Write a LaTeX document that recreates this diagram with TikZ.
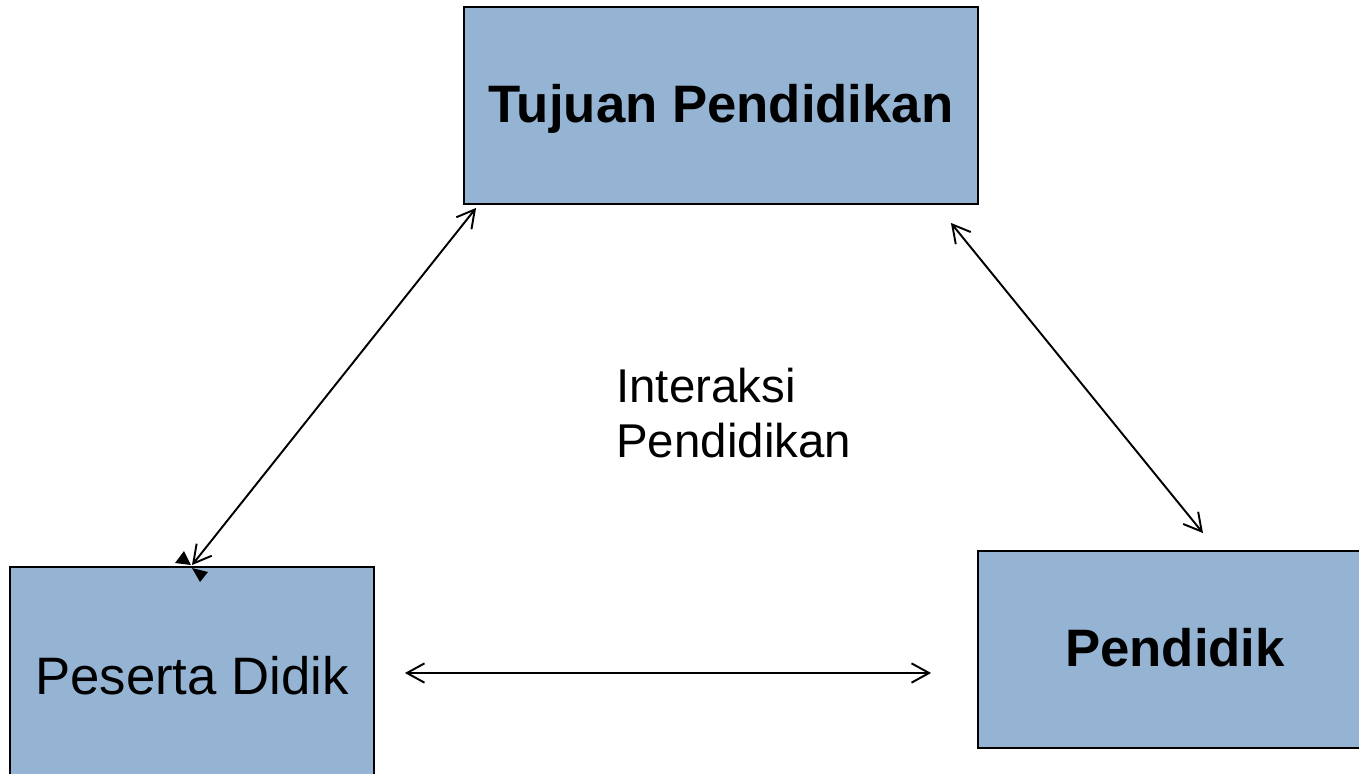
\documentclass[tikz,border=0pt]{standalone}
\usepackage{fontspec}
\setmainfont{Liberation Sans}
\usepackage{tikz}
\usetikzlibrary{arrows.meta}
\usetikzlibrary{calc}

\definecolor{boxblue}{HTML}{95B3D3}
\tikzset{
  kotak/.style={draw=black, line width=1.1pt, fill=boxblue, inner sep=0pt},
  panah/.style={{Straight Barb[length=10pt,width=11pt]}-{Straight Barb[length=10pt,width=11pt]}, line width=1.1pt}
}

\begin{document}
\begin{tikzpicture}[x=0.02cm, y=-0.02cm]
        \useasboundingbox (0,0) rectangle (1359,774);

        \node[kotak, minimum width=10.28cm, minimum height=3.94cm, text height=19pt, text depth=0pt] (tujuan) at (721,105.5)
            {\fontsize{30}{36}\selectfont\bfseries Tujuan Pendidikan};
        \node[kotak, minimum width=7.28cm, minimum height=4.36cm] (peserta) at (192,676)
            {\fontsize{30}{36}\selectfont Peserta Didik};
        \node[kotak, minimum width=7.88cm, minimum height=3.94cm, text height=19pt, text depth=0pt] (pendidik) at (1175,649.5)
            {\fontsize{30}{36}\selectfont\bfseries Pendidik};
        \node[anchor=west, align=left, inner sep=0pt, font=\fontsize{27}{31.8}\selectfont] (interaksi) at (616,413)
            {Interaksi\\Pendidikan};

        \draw[panah] ([xshift=0.26cm,yshift=-0.06cm]tujuan.south west) -- ([yshift=0.02cm]peserta.north);
        \draw[panah] ([xshift=-0.56cm,yshift=-0.36cm]tujuan.south east) -- ([xshift=0.56cm,yshift=0.34cm]pendidik.north);
        \draw[panah] ($(peserta.east)+(30,-3)$) -- ($(peserta.east -| pendidik.west)+(-46,-3)$);

        \fill (175,563) -- (184,551) -- (191,565) -- cycle;
        \fill (192,568) -- (208,572) -- (200,582) -- cycle;
    \end{tikzpicture}
\end{document}
